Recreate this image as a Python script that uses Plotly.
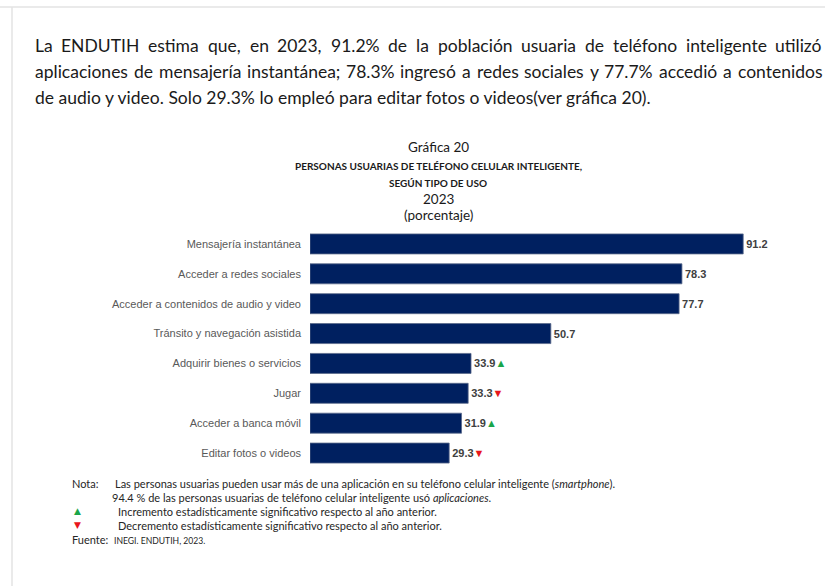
import json
import unicodedata
import plotly.graph_objects as go

W, H = 825, 586

categories = [
    "Mensajería instantánea",
    "Acceder a redes sociales",
    "Acceder a contenidos de audio y video",
    "Tránsito y navegación asistida",
    "Adquirir bienes o servicios",
    "Jugar",
    "Acceder a banca móvil",
    "Editar fotos o videos",
]
values = [91.2, 78.3, 77.7, 50.7, 33.9, 33.3, 31.9, 29.3]
trend = ["", "", "", "", "up", "down", "up", "down"]

paragraph_lines = [
    "La ENDUTIH estima que, en 2023, 91.2% de la población usuaria de teléfono inteligente utilizó",
    "aplicaciones de mensajería instantánea; 78.3% ingresó a redes sociales y 77.7% accedió a contenidos",
    "de audio y video. Solo 29.3% lo empleó para editar fotos o videos(ver gráfica 20).",
]
justify = [True, True, False]

GREEN = "#1aa64a"
RED = "#e8161b"


def px(x):
    return x / W


def py(y):
    return 1 - y / H


def label(v, t):
    s = f"<b>{v:.1f}</b>"
    if t == "up":
        s += f"<span style='color:{GREEN}'>▲</span>"
    elif t == "down":
        s += f"<span style='color:{RED}'>▼</span>"
    return s


texts = [label(v, t) for v, t in zip(values, trend)]

# chart geometry (pixels)
x0_px, x1_px = 310, 800
scale = 4.75  # px per unit
y_top, y_bot = 229.0, 468.0

fig = go.Figure()
fig.add_trace(go.Bar(
    y=categories, x=values, orientation="h",
    marker=dict(color="#002060", line=dict(color="#5b6a8a", width=0.8)),
    width=0.67,
    text=texts, textposition="outside", cliponaxis=False,
    textfont=dict(family="Arial", size=11, color="#404040"),
    hoverinfo="skip",
))

annotations = []

# rough advance widths (em) used only for the initial placement;
# the browser re-measures and justifies the words afterwards.
CW = {
    " ": 0.226, "a": 0.479, "b": 0.525, "c": 0.423, "d": 0.525, "e": 0.498, "f": 0.305,
    "g": 0.471, "h": 0.525, "i": 0.229, "j": 0.239, "k": 0.455, "l": 0.229, "m": 0.799,
    "n": 0.525, "o": 0.527, "p": 0.525, "q": 0.525, "r": 0.349, "s": 0.391, "t": 0.335,
    "u": 0.525, "v": 0.452, "w": 0.715, "x": 0.433, "y": 0.453, "z": 0.395,
    "%": 0.715, ".": 0.252, ",": 0.250, ";": 0.268, "(": 0.303, ")": 0.303,
}


def cw(c):
    base = unicodedata.normalize("NFD", c)[0]
    if base.isdigit():
        return 0.507
    if base.isupper():
        return 0.62
    return CW.get(base, 0.5)


def est(s):
    return sum(cw(c) for c in s)


PF = 17.5
left, right = 33, 820
line_y = [45, 71, 97]
k = (652 - left) / est(paragraph_lines[2])
PFONT = dict(family="Lato", size=PF, color="#1a1a1a")
justify_groups = []
for line, j, yy in zip(paragraph_lines, justify, line_y):
    if not j:
        annotations.append(dict(text=line, x=px(left), y=py(yy), xref="paper", yref="paper",
                                xanchor="left", yanchor="middle", showarrow=False, font=PFONT))
        continue
    words = line.split(" ")
    widths = [est(w) * k for w in words]
    gap = (right - left - sum(widths)) / (len(words) - 1)
    x = left
    idx = []
    for w, wd in zip(words, widths):
        idx.append(len(annotations))
        annotations.append(dict(text=w, x=px(x), y=py(yy), xref="paper", yref="paper",
                                xanchor="left", yanchor="middle", showarrow=False, font=PFONT))
        x += wd + gap
    justify_groups.append(dict(idx=idx, left=left, right=right))

# titles
cx = 438
titles = [
    ("Gráfica 20", 147, 13.5, False),
    ("PERSONAS USUARIAS DE TELÉFONO CELULAR INTELIGENTE,", 166, 10, True),
    ("SEGÚN TIPO DE USO", 183, 10, True),
    ("2023", 199, 13.5, False),
    ("(porcentaje)", 215, 13.5, False),
]
for t, yy, sz, b in titles:
    annotations.append(dict(text=f"<b>{t}</b>" if b else t, x=px(cx), y=py(yy),
                            xref="paper", yref="paper", xanchor="center", yanchor="middle",
                            showarrow=False, font=dict(family="Lato", size=sz, color="#1a1a1a")))

# notes
NF = 11
notes = [
    ("Nota:", 70, 483, NF),
    ("Las personas usuarias pueden usar más de una aplicación en su teléfono celular inteligente (<i>smartphone</i>).", 113, 483, NF),
    ("94.4 % de las personas usuarias de teléfono celular inteligente usó <i>aplicaciones</i>.", 110, 497, NF),
    ("Incremento estadísticamente significativo respecto al año anterior.", 116, 511, NF),
    ("Decremento estadísticamente significativo respecto al año anterior.", 116, 525, NF),
    ("Fuente:", 70, 539, NF),
    ("INEGI. ENDUTIH, 2023.", 112, 540.5, 8.6),
]
for t, xx, yy, sz in notes:
    annotations.append(dict(text=t, x=px(xx), y=py(yy), xref="paper", yref="paper",
                            xanchor="left", yanchor="middle", showarrow=False,
                            font=dict(family="Lato", size=sz, color="#262626")))
annotations.append(dict(text="▲", x=px(77), y=py(511), xref="paper", yref="paper",
                        xanchor="center", yanchor="middle", showarrow=False,
                        font=dict(family="DejaVu Sans", size=9, color=GREEN)))
annotations.append(dict(text="▼", x=px(77), y=py(525), xref="paper", yref="paper",
                        xanchor="center", yanchor="middle", showarrow=False,
                        font=dict(family="DejaVu Sans", size=9, color=RED)))

shapes = [
    dict(type="line", xref="paper", yref="paper", x0=0, x1=1, y0=py(7), y1=py(7),
         line=dict(color="#e3e3e3", width=1.5)),
    dict(type="line", xref="paper", yref="paper", x0=px(12), x1=px(12), y0=py(7), y1=0,
         line=dict(color="#e3e3e3", width=1.5)),
]

fig.update_layout(
    width=W, height=H,
    margin=dict(l=0, r=0, t=0, b=0),
    paper_bgcolor="white", plot_bgcolor="white",
    showlegend=False,
    annotations=annotations,
    shapes=shapes,
    xaxis=dict(domain=[px(x0_px), px(x1_px)], range=[0, (x1_px - x0_px) / scale],
               visible=False, fixedrange=True),
    yaxis=dict(domain=[py(y_bot), py(y_top)], autorange="reversed",
               categoryorder="array", categoryarray=categories,
               showline=False, showgrid=False, zeroline=False,
               ticks="", ticklabelstandoff=8, fixedrange=True,
               tickfont=dict(family="Arial", size=11, color="#595959")),
)

post = """
document.body.style.margin='0';
document.body.style.overflow='hidden';
(function(){
  var gd = document.getElementById('{plot_id}');
  var groups = GROUPS;
  var W = WIDTH;
  function fix(){
    var upd = {};
    groups.forEach(function(L){
      var ws = L.idx.map(function(i){
        var t = gd.querySelector('.annotation[data-index="' + i + '"] .annotation-text');
        return t ? t.getBBox().width : 0;
      });
      var sum = ws.reduce(function(a, b){ return a + b; }, 0);
      var gap = (L.right - L.left - sum) / (ws.length - 1);
      var x = L.left;
      L.idx.forEach(function(i, k){
        upd['annotations[' + i + '].x'] = x / W;
        x += ws[k] + gap;
      });
    });
    Plotly.relayout(gd, upd);
  }
  if (document.fonts && document.fonts.ready) { document.fonts.ready.then(fix); } else { fix(); }
})();
""".replace("GROUPS", json.dumps(justify_groups)).replace("WIDTH", str(W))

fig.write_html("out.html", config={"displayModeBar": False}, post_script=post)
